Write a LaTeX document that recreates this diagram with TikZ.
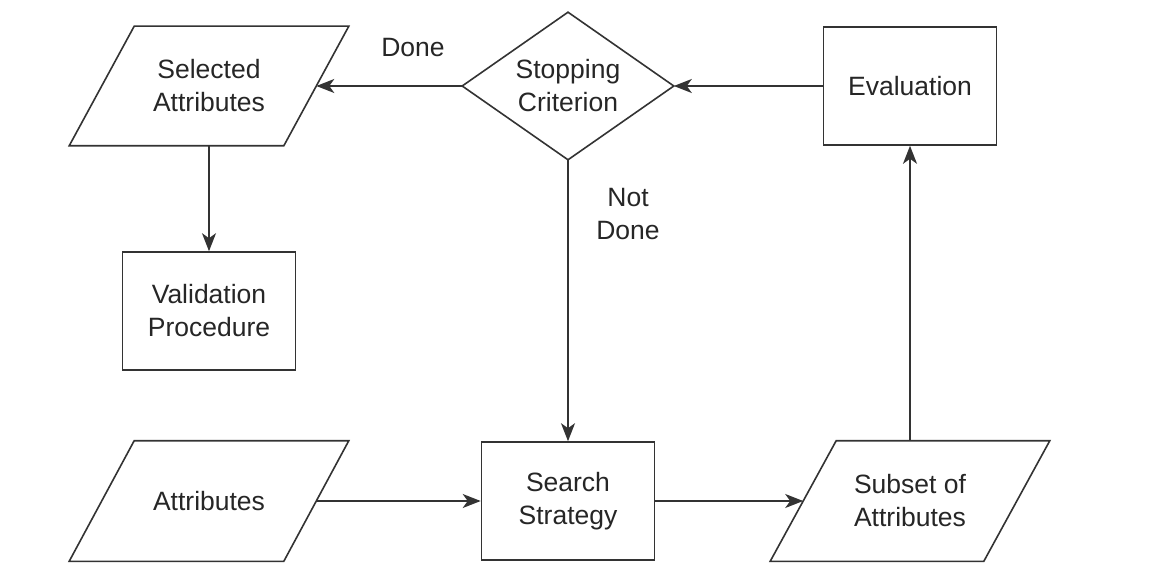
\documentclass[tikz,border=0pt]{standalone}
\usepackage{fontspec}
\setmainfont{Liberation Sans}
\usetikzlibrary{arrows.meta}
\definecolor{ln}{HTML}{333333}
\definecolor{txt}{HTML}{262626}
\begin{document}
\begin{tikzpicture}[x=1pt,y=-1pt,
  color=ln, line width=1.6pt,
  lbl/.style={font=\fontsize{26.5}{33}\selectfont, text=txt, align=center},
  box/.style={lbl, draw=ln, minimum width=173pt, minimum height=118pt, inner sep=0pt},
  ghost/.style={lbl, inner sep=0pt},
  arr/.style={-{Stealth[length=18pt,width=14pt,inset=5pt]}}]
\useasboundingbox (0,0) rectangle (1154,588);
\fill[white] (0,0) rectangle (1154,588);

% parallelograms
\node[ghost, minimum width=213pt, minimum height=118pt] (sel) at (209,86) {Selected\\Attributes};
\draw ([xshift=32.5pt]sel.north west) -- ([xshift=32.5pt]sel.north east) -- ([xshift=-32.5pt]sel.south east) -- ([xshift=-32.5pt]sel.south west) -- cycle;

\node[ghost, minimum width=213pt, minimum height=119pt] (attr) at (209,501) {Attributes};
\draw ([xshift=32.5pt]attr.north west) -- ([xshift=32.5pt]attr.north east) -- ([xshift=-32.5pt]attr.south east) -- ([xshift=-32.5pt]attr.south west) -- cycle;

\node[ghost, minimum width=212pt, minimum height=119pt] (sub) at (910,501) {Subset of\\Attributes};
\draw ([xshift=33pt]sub.north west) -- ([xshift=33pt]sub.north east) -- ([xshift=-33pt]sub.south east) -- ([xshift=-33pt]sub.south west) -- cycle;

% diamond
\node[ghost, minimum width=210pt, minimum height=146pt] (dia) at (568,86) {Stopping\\Criterion};
\draw (dia.north) -- (dia.east) -- (dia.south) -- (dia.west) -- cycle;

% boxes
\node[box] (val) at (209,311) {Validation\\Procedure};
\node[box] (ss) at (568,501) {Search\\Strategy};
\node[box] (eval) at (910,86) {Evaluation};

% labels
\node[lbl] (done) at (413,48) {Done};
\node[lbl] (notdone) at (628,214) {Not\\Done};

% connectors
\draw[arr] (dia.west) -- (sel.east);
\draw[arr] (sel.south) -- (val.north);
\draw[arr] (eval.west) -- (dia.east);
\draw[arr] (dia.south) -- (ss.north);
\draw[arr] (attr.east) -- (ss.west);
\draw[arr] (ss.east) -- (sub.west);
\draw[arr] (sub.north) -- (eval.south);
\end{tikzpicture}
\end{document}
